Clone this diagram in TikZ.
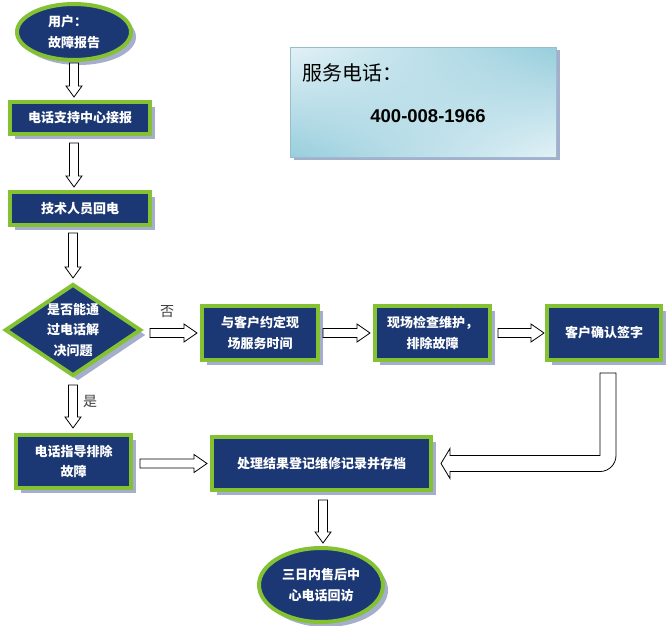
\documentclass[tikz,border=0pt]{standalone}
\usepackage{fontspec}
\newfontfamily\cjk{Noto Sans CJK SC}
\newfontfamily\numfont{Liberation Sans}
\usetikzlibrary{calc,shapes.geometric,shadows,shadings}

\definecolor{boxblue}{RGB}{28,56,116}
\definecolor{boxgreen}{RGB}{132,194,52}
\definecolor{shadowc}{RGB}{165,175,205}
\definecolor{skylight}{RGB}{226,241,246}
\definecolor{skydark}{RGB}{152,206,221}
\definecolor{labelgray}{RGB}{60,60,60}

% down block arrow: start point, tip
\newcommand{\vblock}[2]{%
  \draw[blockarrow] let \p1=(#1), \p2=(#2) in
    (\x1-4.5pt,\y1) -- (\x1+4.5pt,\y1) -- (\x1+4.5pt,\y2+11pt) -- (\x1+8pt,\y2+11pt)
    -- (\x1,\y2) -- (\x1-8pt,\y2+11pt) -- (\x1-4.5pt,\y2+11pt) -- cycle;}

% right block arrow: start point, tip
\newcommand{\hblock}[2]{%
  \draw[blockarrow] let \p1=(#1), \p2=(#2) in
    (\x1,\y1+4.5pt) -- (\x2-13pt,\y1+4.5pt) -- (\x2-13pt,\y1+9pt) -- (\x2,\y1)
    -- (\x2-13pt,\y1-9pt) -- (\x2-13pt,\y1-4.5pt) -- (\x1,\y1-4.5pt) -- cycle;}

\begin{document}
\begin{tikzpicture}[x=1pt,y=1pt,
  flowbox/.style={rectangle, draw=boxgreen, line width=4pt, fill=boxblue, text=white,
    font=\cjk\bfseries\fontsize{13}{20.5}\selectfont, align=center, inner sep=0pt,
    drop shadow={shadow xshift=5pt, shadow yshift=-5pt, fill=shadowc, opacity=1}},
  flowoval/.style={flowbox, ellipse},
  flowdiamond/.style={flowbox, diamond, shape aspect=1.46},
  blockarrow/.style={draw=black, fill=white, line width=0.8pt, line join=miter},
  branch/.style={text=labelgray, font=\cjk\fontsize{14}{16}\selectfont}
]
\useasboundingbox (0,0) rectangle (666,625);

% Left column
\node[flowoval, minimum width=114, minimum height=56, align=left] (user) at (74,593) {用户：\\故障报告};
\node[flowbox, minimum width=140, minimum height=32] (recv) at (80,507) {电话支持中心接报};
\node[flowbox, minimum width=140, minimum height=33] (callback) at (80,416.5) {技术人员回电};
\node[flowdiamond, minimum width=136, minimum height=92] (decide) at (73,295) {是否能通\\过电话解\\决问题};
\node[flowbox, minimum width=115, minimum height=53] (guide) at (73.5,163.5) {电话指导排除\\故障};

% Right row
\node[flowbox, minimum width=116, minimum height=54] (appoint) at (260,292) {与客户约定现\\场服务时间};
\node[flowbox, minimum width=115, minimum height=54] (repair) at (432.5,292) {现场检查维护，\\排除故障};
\node[flowbox, minimum width=114, minimum height=54] (sign) at (604,292) {客户确认签字};

% Bottom
\node[flowbox, minimum width=219, minimum height=53] (result) at (321.5,161.5) {处理结果登记维修记录并存档};
\node[flowoval, minimum width=124, minimum height=74] (visit) at (321,40) {三日内售后中\\心电话回访};

% Service phone box
\node[rectangle, draw={rgb,255:red,150;green,190;blue,205}, line width=0.8pt,
  minimum width=266, minimum height=110,
  upper left=skylight, upper right=skydark, lower left=skydark, lower right=skylight,
  drop shadow={shadow xshift=3pt, shadow yshift=-3pt, fill=shadowc, opacity=1}]
  (phone) at (423.5,522.5) {};
\node[anchor=west, font=\cjk\fontsize{20}{22}\selectfont] (phonetitle) at (299,552) {服务电话：};
\node[font=\numfont\bfseries\fontsize{18.5}{20}\selectfont] (phonenum) at (428,509) {400-008-1966};

% Block arrows
\vblock{$(user.south)+(0,-1)$}{$(recv.north)+(0,3)$}
\vblock{$(recv.south -| user.south)+(0,-7)$}{$(callback.north)+(0,3)$}
\vblock{$(callback.south -| decide.south)+(0,-6)$}{$(decide.north)+(0,4)$}
\vblock{$(decide.south)+(0,-7)$}{$(guide.north)+(0,5)$}
\vblock{$(result.south)+(1.5,-8)$}{$(visit.north)+(0,3)$}
\hblock{$(decide.east |- appoint.west)+(7,0)$}{$(appoint.west)+(-3,0)$}
\hblock{$(appoint.east)+(3,0)$}{$(repair.west)+(-3,0)$}
\hblock{$(repair.east)+(6,0)$}{$(sign.west)+(-1,0)$}
\hblock{$(guide.east |- result.west)+(7,0)$}{$(result.west)+(-3,0)$}

% Bent arrow back to result
\draw[blockarrow] let \p1=($(sign.south)+(4,-11)$), \p2=($(result.east)+(8,0)$) in
  (\x1-8pt,\y1) -- (\x1+8pt,\y1) -- (\x1+8pt,\y2+8pt)
  arc[start angle=0, end angle=-90, radius=16pt] -- (\x2+9pt,\y2-8pt)
  -- (\x2+9pt,\y2-15pt) -- (\x2,\y2) -- (\x2+9pt,\y2+15pt) -- (\x2+9pt,\y2+8pt)
  -- (\x1-8pt,\y2+8pt) -- cycle;

% Branch labels
\node[branch] (nolabel) at (167,313) {否};
\node[branch] (yeslabel) at (90,224) {是};

\end{tikzpicture}
\end{document}
